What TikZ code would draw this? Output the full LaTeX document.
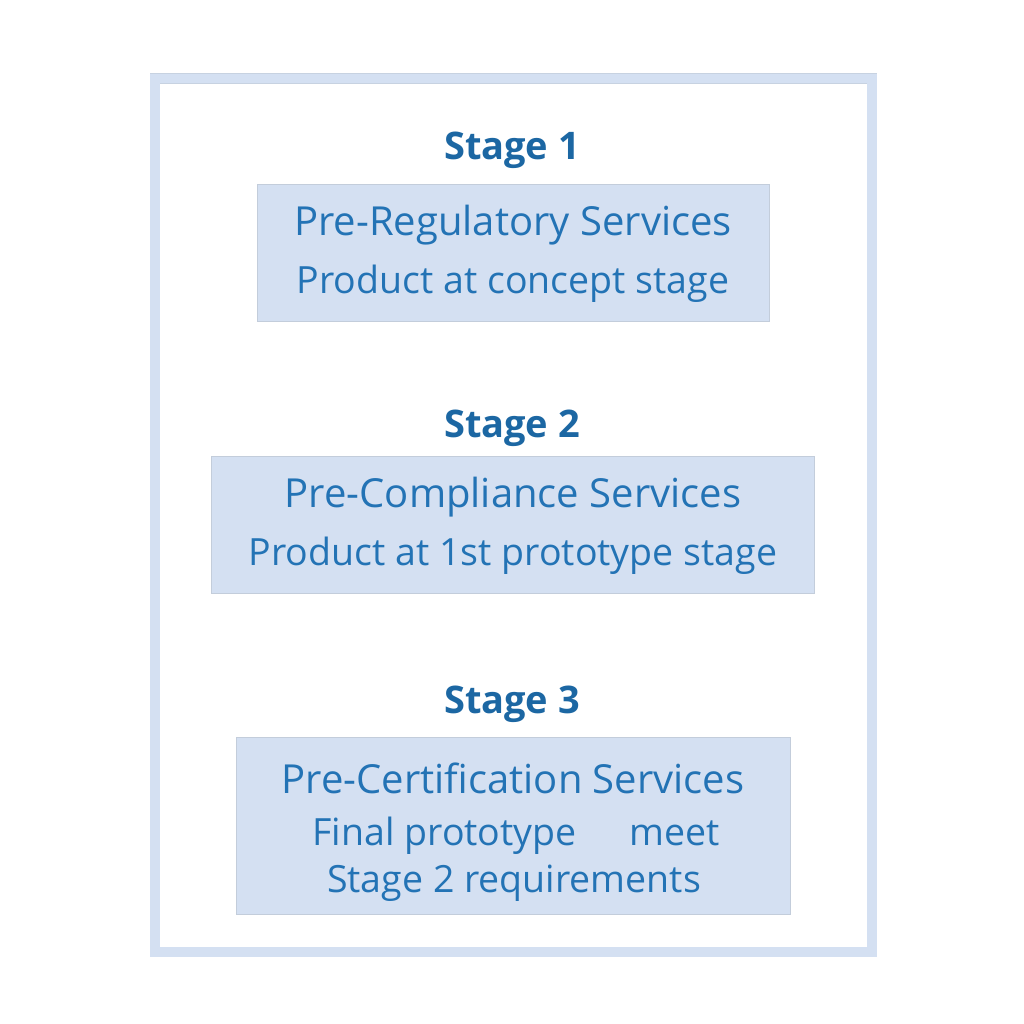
\documentclass[tikz,border=0pt]{standalone}
\usepackage{fontspec}
\setmainfont{Open Sans}
\definecolor{band}{HTML}{D4E0F2}
\definecolor{txt}{HTML}{2373B5}
\definecolor{hd}{HTML}{1C67A3}
\begin{document}
\begin{tikzpicture}[x=1pt,y=-1pt,
 box/.style={fill=band,draw=band!80!gray,line width=0.6pt},
 stage/.style={text=hd,font=\fontsize{38}{44}\selectfont\bfseries,anchor=center},
 title/.style={text=txt,font=\fontsize{40}{46}\selectfont,anchor=center},
 sub/.style={text=txt,font=\fontsize{37.5}{44}\selectfont,anchor=center}]
\useasboundingbox (0,0) rectangle (1024,1024);
\fill[band] (150,73) rectangle (877,957);
\draw[band!85!gray,line width=0.8pt] (150,73) -- (877,73);
\fill[white] (160,83) rectangle (867,947);
\draw[band!85!gray,line width=0.6pt] (160,83) -- (867,83);
\draw[box] (257,184) rectangle (769,321);
\draw[box] (211,456) rectangle (814,593);
\draw[box] (236,737) rectangle (790,914);
\node[stage] (s1) at (512,150) {Stage 1};
\node[title] (t1) at (513,225) {Pre-Regulatory Services};
\node[sub] (d1) at (513,284) {Product at concept stage};
\node[stage] (s2) at (512,428) {Stage 2};
\node[title] (t2) at (513,497) {Pre-Compliance Services};
\node[sub] (d2) at (513,556) {Product at 1st prototype stage};
\node[stage] (s3) at (512,704) {Stage 3};
\node[title] (t3) at (513,778) {Pre-Certification Services};
\node[sub] (d3) at (516,836) {Final prototype\hspace{1.4em}meet};
\node[sub] (e3) at (514,883) {Stage 2 requirements};
\end{tikzpicture}
\end{document}
